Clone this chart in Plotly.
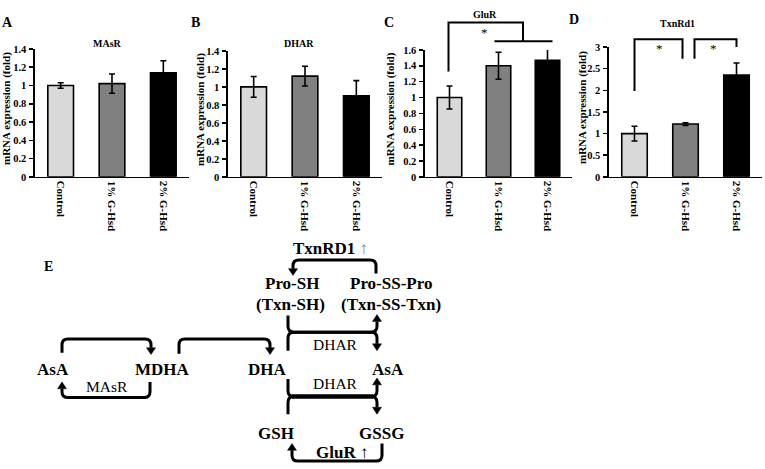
import plotly.graph_objects as go

# ---------------- data ----------------
categories = ["Control", "1% G-Hsd", "2% G-Hsd"]
bar_colors = ["#d9d9d9", "#808080", "#000000"]

masr_mean = [1.00, 1.02, 1.14]
masr_err = [0.03, 0.105, 0.13]
dhar_mean = [1.00, 1.12, 0.90]
dhar_err = [0.115, 0.11, 0.17]
glur_mean = [1.00, 1.40, 1.47]
glur_err = [0.145, 0.17, 0.15]
txn_mean = [1.00, 1.22, 2.35]
txn_err = [0.17, 0.03, 0.28]

panel_titles = ["MAsR", "DHAR", "GluR", "TxnRd1"]
panel_letters = ["A", "B", "C", "D"]
y_max = [1.4, 1.4, 1.6, 3]
y_dtick = [0.2, 0.2, 0.2, 0.5]
y_title = "mRNA expression (fold)"

# ---------------- layout helpers ----------------
W, H = 765, 469
FONT = "Liberation Serif"


def px(x):
    return x / W


def py(y):
    return 1 - y / H


def pt(x, y):
    return f"{px(x):.5f},{py(y):.5f}"


# pixel geometry of each bar panel: (x_left, x_right, y_top, y_bottom)
geom = [(35, 189, 45, 176), (228, 382, 47, 176), (425, 572, 46, 176), (609, 762, 43, 176)]
title_pos = [(107, 39), (299, 39), (485, 10), (677, 19)]
letter_pos = [(7, 18), (196, 18), (389, 18), (574, 15)]
ytitle_x = [6, 201, 390, 582]

series = [(masr_mean, masr_err), (dhar_mean, dhar_err), (glur_mean, glur_err), (txn_mean, txn_err)]

fig = go.Figure()
layout = dict(
    width=W, height=H, margin=dict(l=0, r=0, t=0, b=0),
    paper_bgcolor="white", plot_bgcolor="white", showlegend=False,
    font=dict(family=FONT, color="black"),
)
annotations = []
shapes = []

for i, ((means, errs), (x0, x1, yt, yb)) in enumerate(zip(series, geom)):
    xa = "x" if i == 0 else f"x{i+1}"
    ya = "y" if i == 0 else f"y{i+1}"
    fig.add_trace(go.Bar(
        x=categories, y=means, width=0.5,
        marker=dict(color=bar_colors, line=dict(color="black", width=1.6)),
        error_y=dict(type="data", array=errs, visible=True, color="black", thickness=1.6, width=3),
        xaxis=xa, yaxis=ya, hoverinfo="skip",
    ))
    layout["xaxis" if i == 0 else f"xaxis{i+1}"] = dict(
        domain=[px(x0), px(x1)], anchor=ya, type="category", range=[-0.5, 2.5],
        tickangle=90, showline=True, linecolor="black", linewidth=1.6, ticks="",
        showgrid=False, zeroline=False,
        tickfont=dict(family=FONT, size=11, color="black", weight="bold"),
    )
    layout["yaxis" if i == 0 else f"yaxis{i+1}"] = dict(
        domain=[py(yb), py(yt)], anchor=xa, range=[0, y_max[i]], tick0=0, dtick=y_dtick[i],
        ticks="outside", ticklen=4, tickwidth=1.5, tickcolor="black", ticklabelstandoff=1,
        showline=True, linecolor="black", linewidth=1.6, showgrid=False, zeroline=False,
        tickfont=dict(family=FONT, size=10.5, color="black", weight="bold"),
    )
    annotations.append(dict(x=px(title_pos[i][0]), y=py(title_pos[i][1]), xref="paper", yref="paper",
                            text=f"<b>{panel_titles[i]}</b>", showarrow=False,
                            font=dict(family=FONT, size=10), xanchor="center", yanchor="middle"))
    annotations.append(dict(x=px(letter_pos[i][0]), y=py(letter_pos[i][1]), xref="paper", yref="paper",
                            text=f"<b>{panel_letters[i]}</b>", showarrow=False,
                            font=dict(family=FONT, size=14), xanchor="center", yanchor="middle"))
    annotations.append(dict(x=px(ytitle_x[i]), y=py((yt + yb) / 2 - 4), xref="paper", yref="paper",
                            text=f"<b>{y_title}</b>", showarrow=False, textangle=-90,
                            font=dict(family=FONT, size=11), xanchor="center", yanchor="middle"))


def cat_x(panel, idx):
    x0, x1, _, _ = geom[panel]
    return x0 + (idx + 0.5) * (x1 - x0) / 3


def line_path(pts, r=0.0):
    if r <= 0 or len(pts) < 3:
        return "M " + " L ".join(pt(*p) for p in pts)
    d = "M " + pt(*pts[0])
    for k in range(1, len(pts) - 1):
        (ax, ay), (bx, by), (cx, cy) = pts[k - 1], pts[k], pts[k + 1]

        def toward(p, q, dist):
            dx, dy = q[0] - p[0], q[1] - p[1]
            L = (dx * dx + dy * dy) ** 0.5
            return (p[0] + dx / L * dist, p[1] + dy / L * dist)
        p1 = toward((bx, by), (ax, ay), r)
        p2 = toward((bx, by), (cx, cy), r)
        d += " L " + pt(*p1) + " Q " + pt(bx, by) + " " + pt(*p2)
    d += " L " + pt(*pts[-1])
    return d


def add_line(pts, width=2, r=0.0, color="black"):
    shapes.append(dict(type="path", path=line_path(pts, r), xref="paper", yref="paper",
                       line=dict(color=color, width=width), fillcolor="rgba(0,0,0,0)"))


def add_arrow(tip, direction, size=7, half=4.5):
    x, y = tip
    if direction == "down":
        tri = [(x, y), (x - half, y - size), (x + half, y - size)]
    elif direction == "up":
        tri = [(x, y), (x - half, y + size), (x + half, y + size)]
    else:
        tri = [(x, y), (x + size, y - half), (x + size, y + half)]
    shapes.append(dict(type="path", path="M " + " L ".join(pt(*p) for p in tri) + " Z",
                       xref="paper", yref="paper", line=dict(color="black", width=0.5),
                       fillcolor="black"))


def add_text(x, y, text, size=17, bold=True, color="black"):
    t = f"<b>{text}</b>" if bold else text
    annotations.append(dict(x=px(x), y=py(y), xref="paper", yref="paper", text=t, showarrow=False,
                            font=dict(family=FONT, size=size, color=color),
                            xanchor="center", yanchor="middle"))


# ---- significance brackets ----
# panel C
c0, c1, c2 = cat_x(2, 0), cat_x(2, 1), cat_x(2, 2)
cm = (c1 + c2) / 2
add_line([(c0 - 1, 68), (c0 - 1, 18), (cm, 18), (cm, 37)], width=2)
add_line([(c1 - 4, 37), (c2 + 5, 37)], width=2)
add_text(484, 28, "*", size=13, bold=False)
# panel D
d0, d1, d2 = cat_x(3, 0), cat_x(3, 1), cat_x(3, 2)
add_line([(d0, 88), (d0, 35), (d1 - 3, 35), (d1 - 3, 55)], width=2)
add_line([(d1 + 9, 55), (d1 + 9, 35), (d2, 35), (d2, 43)], width=2)
add_text(659, 45, "*", size=13, bold=False)
add_text(713, 45, "*", size=13, bold=False)

# ---- pathway diagram (E) ----
LW = 3
R = 6
add_text(48, 268, "E", size=14)
# AsA -> MDHA
add_line([(62, 356), (62, 342), (151, 342), (151, 351)], LW, R)
add_arrow((151, 358), "down")
# MDHA -> AsA (MAsR)
add_line([(150, 386), (150, 402), (62, 402), (62, 393)], LW, R)
add_arrow((62, 386), "up")
# MDHA -> DHA
add_line([(179, 357), (179, 342), (270, 342), (270, 351)], LW, R)
add_arrow((270, 358), "down")
# upper DHAR brace
add_line([(288, 318), (288, 335), (377, 335), (377, 324)], LW, R)
add_arrow((377, 317), "up")
add_line([(288, 354), (288, 335), (377, 335), (377, 347)], LW, R)
add_arrow((377, 354), "down")
# lower DHAR brace
add_line([(288, 383), (288, 401), (377, 401), (377, 389)], LW, R)
add_arrow((377, 382), "up")
add_line([(288, 419), (288, 401), (377, 401), (377, 412)], LW, R)
add_arrow((377, 419), "down")
add_line([(292, 401), (373, 401)], 4.5)
# TxnRD1 cycle
add_line([(376, 275), (376, 261), (293, 261), (293, 270)], LW, R)
add_arrow((293, 277), "down")
# GluR cycle
add_line([(382, 449), (382, 467), (292, 467), (292, 456)], LW, R)
add_arrow((292, 449), "up")

# diagram labels
ROW = 373
add_text(53, ROW, "AsA")
add_text(162, ROW, "MDHA")
add_text(267, ROW, "DHA")
add_text(388, ROW, "AsA")
add_text(107, 391, "MAsR", size=15.5, bold=False)
add_text(335, 348, "DHAR", size=15.5, bold=False)
add_text(335, 388, "DHAR", size=15.5, bold=False)
add_text(292, 285, "Pro-SH")
add_text(391, 285, "Pro-SS-Pro")
add_text(290, 307, "(Txn-SH)")
add_text(391, 307, "(Txn-SS-Txn)")
add_text(330, 249, "<b>TxnRD1</b> <span style='color:#808080'>↑</span>", size=17, bold=False)
add_text(276, 439, "GSH")
add_text(381, 439, "GSSG")
add_text(342, 458, "<b>GluR</b> ↑", size=17, bold=False)

layout["annotations"] = annotations
layout["shapes"] = shapes
fig.update_layout(**layout)
fig.write_html("out.html", config={"displayModeBar": False, "staticPlot": True},
               post_script="document.body.style.margin='0';document.body.style.overflow='hidden';")
